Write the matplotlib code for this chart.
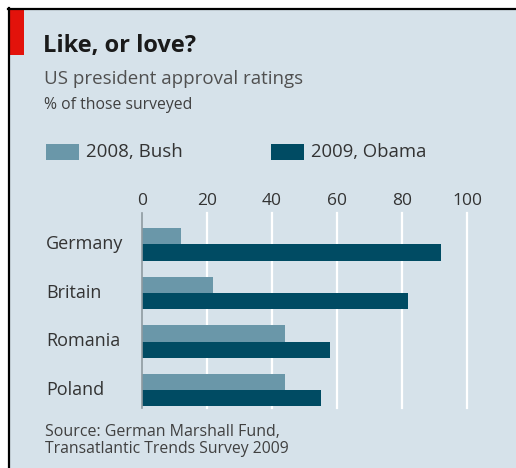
import matplotlib.pyplot as plt
import matplotlib.transforms as mtransforms
from matplotlib.patches import Rectangle
from matplotlib.lines import Line2D

countries = ["Germany", "Britain", "Romania", "Poland"]
bush_2008 = [12, 22, 44, 44]
obama_2009 = [92, 82, 58, 55]
xticks = [0, 20, 40, 60, 80, 100]

W, H = 516, 468
bg = "#d6e2ea"
light = "#6a97a9"
dark = "#004b63"
plt.rcParams["font.family"] = ["Open Sans", "DejaVu Sans"]

fig = plt.figure(figsize=(W / 100, H / 100), dpi=100, facecolor="white")

def fx(px):
    return px / W

def fy(py):
    return 1 - py / H

# panel background, frame and red tag
fig.patches.append(Rectangle((fx(9), 0), 1, fy(9), transform=fig.transFigure,
                             facecolor=bg, edgecolor="none", zorder=-5))
fig.lines.append(Line2D([fx(8), 1], [fy(8.5), fy(8.5)], transform=fig.transFigure,
                        color="black", lw=1.6))
fig.lines.append(Line2D([fx(8.5), fx(8.5)], [0, fy(8)], transform=fig.transFigure,
                        color="black", lw=1.6))
fig.patches.append(Rectangle((fx(10), fy(55)), fx(14), 45 / H, transform=fig.transFigure,
                             facecolor="#e3120b", edgecolor="none"))

fig.text(fx(43), fy(46), "Like, or love?", fontsize=17, fontweight="bold",
         color="#1a1a1a", va="center", ha="left")
fig.text(fx(44), fy(79), "US president approval ratings", fontsize=13.5,
         color="#505050", va="center", ha="left")
fig.text(fx(44), fy(105), "% of those surveyed", fontsize=11.3,
         color="#404040", va="center", ha="left")

# legend
fig.patches.append(Rectangle((fx(46), fy(160)), fx(33), 16 / H, transform=fig.transFigure,
                             facecolor=light, edgecolor="none"))
fig.text(fx(86), fy(152), "2008, Bush", fontsize=13.5, color="#333333", va="center")
fig.patches.append(Rectangle((fx(271), fy(160)), fx(33), 16 / H, transform=fig.transFigure,
                             facecolor=dark, edgecolor="none"))
fig.text(fx(311), fy(152), "2009, Obama", fontsize=13.3, color="#333333", va="center")

# bar area
ax = fig.add_axes([fx(141.7), fy(408), fx(325.3), 195 / H])
ax.set_zorder(2)
ax.set_facecolor("none")
pos = list(range(len(countries)))
h = 0.33
ax.barh([p - h / 2 for p in pos], bush_2008, height=h, color=light, zorder=2)
ax.barh([p + h / 2 for p in pos], obama_2009, height=h, color=dark, zorder=2)
ax.set_xlim(0, 100)
ax.set_ylim(3 + 18 / 48.5, -31.5 / 48.5)
for x in xticks[1:]:
    ax.axvline(x, color="white", lw=1.6, zorder=1, clip_on=False)
for s in ["top", "right", "bottom"]:
    ax.spines[s].set_visible(False)
ax.spines["left"].set_color("#8f9aa0")
ax.spines["left"].set_linewidth(1.2)
ax.xaxis.tick_top()
ax.set_xticks(xticks)
ax.tick_params(axis="x", length=0, pad=3, labelsize=12.5, labelcolor="#333333")
ax.set_yticks([])

trans = mtransforms.blended_transform_factory(fig.transFigure, ax.transData)
for p, c in zip(pos, countries):
    ax.text(fx(46), p, c, transform=trans, fontsize=13, color="#333333",
            va="center", ha="left")

fig.text(fx(45), fy(432), "Source: German Marshall Fund,", fontsize=11.5,
         color="#404040", va="center")
fig.text(fx(45), fy(449), "Transatlantic Trends Survey 2009", fontsize=11.3,
         color="#404040", va="center")

fig.savefig("out.png", dpi=100, facecolor="white")
